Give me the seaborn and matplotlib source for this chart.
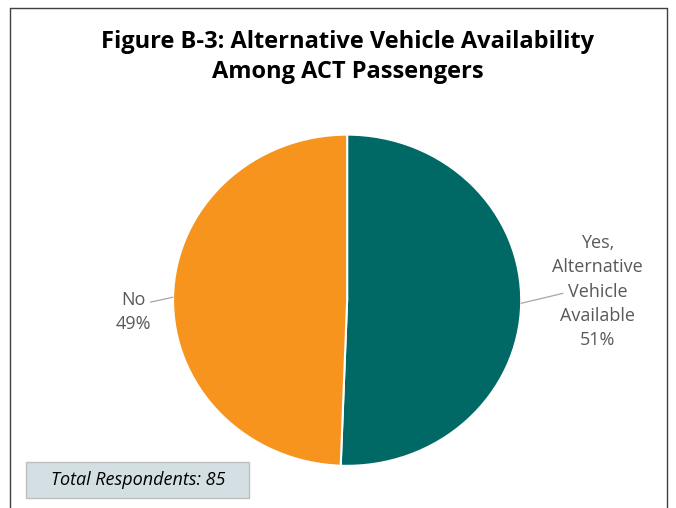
import numpy as np
import matplotlib
matplotlib.use("Agg")
import matplotlib.pyplot as plt
import seaborn as sns
from matplotlib.lines import Line2D
from matplotlib.patches import Rectangle

sns.set_theme(style="white")
plt.rcParams["font.family"] = ["Open Sans", "DejaVu Sans"]

# data
labels = ["Yes,\nAlternative\nVehicle\nAvailable", "No"]
counts = [43, 42]
colors = ["#006966", "#F7941D"]
title = "Figure B-3: Alternative Vehicle Availability\nAmong ACT Passengers"
note = "Total Respondents: 85"

fig = plt.figure(figsize=(6.76, 5.08), dpi=100)

# outer frame (left, top, right)
frame_col = "#404040"
fig.add_artist(Line2D([10/676, 10/676], [0, 1 - 8/508], color=frame_col, lw=1.0))
fig.add_artist(Line2D([10/676, 667/676], [1 - 8/508, 1 - 8/508], color=frame_col, lw=1.0))
fig.add_artist(Line2D([667/676, 667/676], [0, 1 - 8/508], color=frame_col, lw=1.0))

fig.text(0.514, 1 - 57/508, title, ha="center", va="center", fontsize=17,
         fontweight="bold", color="#000000", linespacing=1.3)

ax = fig.add_axes([0.256, 0.083, 0.515, 0.652])
wedges, _ = ax.pie(counts, colors=colors, startangle=90, counterclock=False,
                   wedgeprops=dict(edgecolor="white", linewidth=1.5))
ax.set_aspect("auto")
ax.set_xlim(-1, 1)
ax.set_ylim(-1, 1)
ax.axis("off")

total = sum(counts)
# labels with leader lines: (line end dx, dy), (text dx, dy) from edge point
placements = [((0.24, 0.06), (0.44, 0.07)), ((-0.13, -0.03), (-0.23, -0.09))]
for w, lab, c, (lend, tpos) in zip(wedges, labels, counts, placements):
    ang = np.deg2rad((w.theta1 + w.theta2) / 2)
    x, y = np.cos(ang), np.sin(ang)
    txt = f"{lab}\n{round(100 * c / total)}%"
    ax.plot([x, x + lend[0]], [y, y + lend[1]], color="#a6a6a6", lw=0.9, clip_on=False)
    ax.text(x + tpos[0], y + tpos[1], txt, ha="center", va="center", fontsize=13,
            color="#595959", linespacing=1.45)

# note box
fig.add_artist(Rectangle((26/676, 1 - 498/508), 223/676, 36/508, transform=fig.transFigure,
                         facecolor="#D3DFE3", edgecolor="#BFBFBF", lw=1))
fig.text(138/676, 1 - 480/508, note, ha="center", va="center", fontsize=13,
         style="italic", color="#000000")

plt.savefig("out.png", dpi=100)
